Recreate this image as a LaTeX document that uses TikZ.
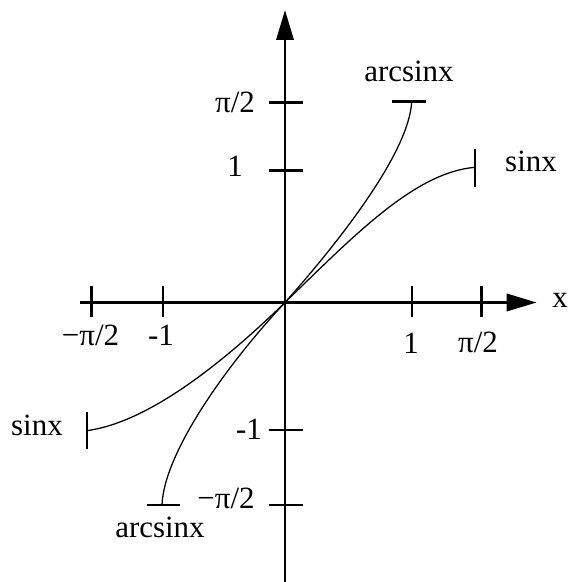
\documentclass[tikz,border=0pt]{standalone}
\usepackage{fontspec}
\setmainfont{Liberation Serif}
\usetikzlibrary{arrows.meta}

\begin{document}
\begin{tikzpicture}[
        x=0.025cm, y=0.025cm,
        axis/.style={line width=2pt, -{Triangle[length=7.5mm, width=4.3mm]}},
        tick/.style={line width=1.8pt},
        curve/.style={line width=0.9pt},
        lbl/.style={anchor=base, inner sep=0pt, font=\fontsize{22}{26}\selectfont}
    ]
    \useasboundingbox (-285,-279.5) rectangle (284,302.5);

    % axes
    \coordinate (o) at (0,0);
    \coordinate (xmin) at (-204.5,0);
    \coordinate (xmax) at (251.7,0);
    \coordinate (ymin) at (0,-279.5);
    \coordinate (ymax) at (0,292.5);
    \draw[axis] (xmin) -- (xmax);
    \draw[axis] (ymin) -- (ymax);

    % ticks
    \foreach \t in {-193.3,-122,126.8,196.7}
        \draw[tick] (\t,16.5) -- (\t,-14.5);
    \foreach \t in {199.8,131.8,-127.5,-202.5}
        \draw[tick] (-16,\t) -- (18,\t);

    % tick labels
    \node[lbl] (xlbl) at (275,-4.8) {x};
    \node[lbl] (xmpi) at (-194.5,-43.5) {−π/2};
    \node[lbl] (xmone) at (-124,-43.5) {-1};
    \node[lbl] (xone) at (126,-51.5) {1};
    \node[lbl] (xpi) at (193,-50.5) {π/2};
    \node[lbl] (ypi) at (-50,189.5) {π/2};
    \node[lbl] (yone) at (-50,125.5) {1};
    \node[lbl] (ymone) at (-36,-136.5) {-1};
    \node[lbl] (ympi) at (-59,-205.5) {−π/2};

    % sin x
    \coordinate (sinR) at (190,135.2);
    \coordinate (sinL) at (-198,-128.2);
    \draw[curve] (o) .. controls (70,68) and (130,130) .. (sinR);
    \draw[curve] (o) .. controls (-70,-68) and (-140,-120) .. (sinL);
    \draw[tick] (sinR) ++(0,18.3) -- ++(0,-37.7);
    \draw[tick] (sinL) ++(0,18.7) -- ++(0,-37);
    \node[lbl] (sinRlbl) at (246,130.8) {sinx};
    \node[lbl] (sinLlbl) at (-248,-133.5) {sinx};

    % arcsin x
    \coordinate (asinT) at (126.7,200.8);
    \coordinate (asinB) at (-123,-202.5);
    \draw[curve] (o) .. controls (55,62) and (124,150) .. (asinT);
    \draw[curve] (o) .. controls (-58,-62) and (-121,-150) .. (asinB);
    \draw[tick] (asinT) ++(-19.7,0) -- ++(33.7,0);
    \draw[tick] (asinB) ++(-15,0) -- ++(32.6,0);
    \node[lbl] (asinTlbl) at (124,220.5) {arcsinx};
    \node[lbl] (asinBlbl) at (-125,-234.5) {arcsinx};
\end{tikzpicture}
\end{document}
